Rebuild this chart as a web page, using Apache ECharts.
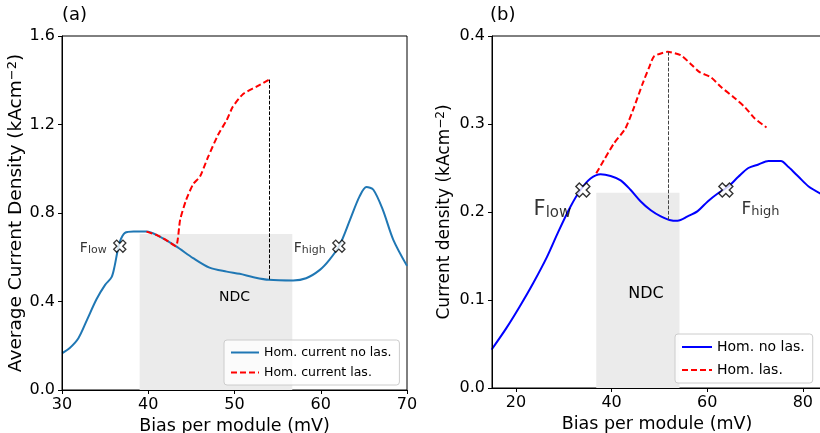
<!DOCTYPE html>
<html>
<head>
<meta charset="utf-8">
<script src="https://cdn.jsdelivr.net/npm/echarts@6/dist/echarts.min.js"></script>
<style>
  html, body { margin: 0; padding: 0; background: #fff; }
  #chart { width: 820px; height: 433px; }
</style>
</head>
<body>
<div id="chart"></div>
<script>
// panel (a)
const aNoLasX = [30, 30.9, 31.9, 32.9, 34.0, 35.0, 35.75, 36.1, 36.4, 36.7, 37.3, 38.3, 39.8, 41, 43.2, 45.2, 47.1, 49.1, 50.6, 52.2, 54, 56.8, 58.3, 59.9, 61, 62.2, 63.4, 64.5, 65.3, 66.1, 67.2, 68.4, 70]
const aNoLasY = [0.166, 0.19, 0.234, 0.317, 0.41, 0.475, 0.51, 0.56, 0.62, 0.67, 0.71, 0.716, 0.716, 0.70, 0.65, 0.596, 0.553, 0.535, 0.525, 0.51, 0.498, 0.495, 0.505, 0.543, 0.588, 0.656, 0.77, 0.875, 0.917, 0.905, 0.814, 0.68, 0.561]
const aLasX = [39.8, 41, 42, 43.2, 43.7, 44.4, 45.2, 46.0, 46.9, 48.1, 49.1, 49.8, 51.0, 52.5, 54]
const aLasY = [0.716, 0.70, 0.68, 0.65, 0.77, 0.86, 0.93, 0.965, 1.05, 1.154, 1.22, 1.28, 1.338, 1.37, 1.403]
const aPeak = [54, 1.403, 0.498]        // x, top, bottom of dashed drop line
const aNdc = [39.0, 56.7, 0.705]         // x from, x to, height
const aMarkX = [36.7, 62.1]
const aMarkY = [0.65, 0.65]

// panel (b)
const bNoLasX = [14.9, 18.0, 20.8, 23.6, 26.5, 28.9, 31.4, 33.5, 35.6, 37.7, 39.8, 41.9, 44.0, 46.1, 48.2, 50.3, 52.1, 53.8, 55.9, 58.0, 60.1, 62.2, 64.4, 66.5, 68.6, 70.7, 72.8, 75.4, 77.0, 79.1, 81.2, 84.0]
const bNoLasY = [0.0435, 0.068, 0.0926, 0.119, 0.149, 0.178, 0.206, 0.225, 0.238, 0.243, 0.241, 0.236, 0.225, 0.212, 0.202, 0.195, 0.191, 0.19, 0.195, 0.201, 0.212, 0.221, 0.229, 0.24, 0.25, 0.254, 0.258, 0.258, 0.251, 0.24, 0.229, 0.22]
const bLasX = [36.8, 38.4, 40.5, 42.9, 44.7, 46.5, 47.9, 48.9, 51.7, 54.5, 56.6, 58.4, 60.8, 62.9, 65.4, 67.9, 70.0, 72.4]
const bLasY = [0.244, 0.259, 0.278, 0.295, 0.319, 0.346, 0.365, 0.377, 0.382, 0.378, 0.368, 0.359, 0.353, 0.342, 0.331, 0.319, 0.306, 0.296]
const bPeak = [51.9, 0.382, 0.19]
const bNdc = [36.8, 54.2, 0.222]
const bMarkX = [34.0, 63.9]
const bMarkY = [0.225, 0.225]

const subs = ['low', 'high']
const xTicksB = [20, 40, 60, 80]

const zip = (xs, ys) => xs.map((x, i) => [x, ys[i]])

const FONT = 'DejaVu Sans'
const crossPath = 'path://M3.4,0 L6.6,0 L6.6,3.4 L10,3.4 L10,6.6 L6.6,6.6 L6.6,10 L3.4,10 L3.4,6.6 L0,6.6 L0,3.4 L3.4,3.4 Z'

const chart = echarts.init(document.getElementById('chart'), null, { renderer: 'canvas' })

const axisCommon = {
  z: 10,
  axisLine: { show: true, onZero: false, lineStyle: { color: '#000', width: 1 } },
  axisTick: { show: true, inside: false, length: 4, lineStyle: { color: '#000' } },
  splitLine: { show: false },
  axisLabel: { color: '#000', fontFamily: FONT, fontSize: 16, margin: 7 },
  nameTextStyle: { color: '#000', fontFamily: FONT }
}

// axis title with a real superscript for "−2"
const unitName = (fs) => ({
  color: '#000', fontFamily: FONT, fontSize: fs,
  rich: {
    sup: { fontSize: Math.round(fs * 0.7), fontFamily: FONT, color: '#000', verticalAlign: 'top', lineHeight: fs + 2 }
  }
})

const subLabel = (fs, ss) => ({
  show: true,
  color: '#000',
  fontFamily: FONT,
  formatter: (p) => '{f|F}{s|' + subs[p.dataIndex] + '}',
  rich: {
    f: { fontSize: fs, fontFamily: FONT, color: '#000', lineHeight: fs + 4, verticalAlign: 'bottom' },
    s: { fontSize: ss, fontFamily: FONT, color: '#000', lineHeight: ss, verticalAlign: 'bottom' }
  }
})

const legendCommon = {
  orient: 'vertical',
  padding: [6, 8, 6, 6],
  backgroundColor: 'rgba(255,255,255,0.8)', borderColor: '#ccc', borderWidth: 1, borderRadius: 3,
  itemStyle: { color: 'transparent', borderWidth: 0, opacity: 0 }
}

const option = {
  animation: false,
  backgroundColor: '#fff',
  textStyle: { fontFamily: FONT },
  title: [
    { text: '(a)', left: 57, top: 1, textStyle: { fontFamily: FONT, fontSize: 18, fontWeight: 'normal', color: '#000' } },
    { text: '(b)', left: 485, top: 1, textStyle: { fontFamily: FONT, fontSize: 18, fontWeight: 'normal', color: '#000' } }
  ],
  grid: [
    { left: 62, top: 36, width: 345, height: 354, outerBoundsMode: 'none', show: true, borderColor: '#000', borderWidth: 1, backgroundColor: 'transparent' },
    { left: 492, top: 36, right: -2, height: 352, outerBoundsMode: 'none', show: true, borderColor: '#000', borderWidth: 1, backgroundColor: 'transparent' }
  ],
  legend: [
    Object.assign({}, legendCommon, {
      data: ['Hom. current no las.', 'Hom. current las.'],
      left: 224, top: 340,
      itemWidth: 28, itemHeight: 10, itemGap: 7,
      textStyle: { fontFamily: FONT, fontSize: 12.5, color: '#000' }
    }),
    Object.assign({}, legendCommon, {
      data: ['Hom. no las.', 'Hom. las.'],
      left: 675, top: 334,
      itemWidth: 30, itemHeight: 10, itemGap: 9,
      textStyle: { fontFamily: FONT, fontSize: 14, color: '#000' }
    })
  ],
  xAxis: [
    Object.assign({}, axisCommon, {
      gridIndex: 0, type: 'value', min: 30, max: 70, interval: 10,
      name: 'Bias per module (mV)', nameLocation: 'middle', nameGap: 21,
      nameTextStyle: { color: '#000', fontFamily: FONT, fontSize: 17.5 }
    }),
    Object.assign({}, axisCommon, {
      gridIndex: 1, type: 'value', min: 15, max: 84,
      axisTick: { show: true, length: 4, lineStyle: { color: '#000' }, customValues: xTicksB },
      axisLabel: { color: '#000', fontFamily: FONT, fontSize: 16, margin: 7, customValues: xTicksB },
      name: 'Bias per module (mV)', nameLocation: 'middle', nameGap: 23,
      nameTextStyle: { color: '#000', fontFamily: FONT, fontSize: 17.5 }
    })
  ],
  yAxis: [
    Object.assign({}, axisCommon, {
      gridIndex: 0, type: 'value', min: 0, max: 1.6, interval: 0.4,
      axisLabel: { color: '#000', fontFamily: FONT, fontSize: 16, margin: 7, formatter: (v) => v.toFixed(1) },
      name: 'Average Current Density (kAcm{sup|−2})', nameLocation: 'middle', nameGap: 34,
      nameTextStyle: unitName(18.5)
    }),
    Object.assign({}, axisCommon, {
      gridIndex: 1, type: 'value', min: 0, max: 0.4, interval: 0.1,
      axisLabel: { color: '#000', fontFamily: FONT, fontSize: 16, margin: 7, formatter: (v) => v.toFixed(1) },
      name: 'Current density (kAcm{sup|−2})', nameLocation: 'middle', nameGap: 38,
      nameTextStyle: unitName(17)
    })
  ],
  series: [
    {
      name: 'Hom. current no las.', type: 'line', xAxisIndex: 0, yAxisIndex: 0,
      data: zip(aNoLasX, aNoLasY), smooth: 0.3, showSymbol: false, symbol: 'none',
      lineStyle: { color: '#1f77b4', width: 2 }, itemStyle: { color: '#1f77b4' }, z: 3,
      markArea: {
        silent: true,
        itemStyle: { color: '#ebebeb' },
        data: [[{ coord: [aNdc[0], 0] }, { coord: [aNdc[1], aNdc[2]] }]]
      },
      markPoint: {
        silent: true, symbol: 'circle', symbolSize: 0,
        label: { show: true, position: 'inside', formatter: 'NDC', color: '#000', fontFamily: FONT, fontSize: 14 },
        data: [{ coord: [50, 0.42] }]
      }
    },
    {
      name: 'Hom. current las.', type: 'line', xAxisIndex: 0, yAxisIndex: 0,
      data: zip(aLasX, aLasY), smooth: 0.2, showSymbol: false, symbol: 'none',
      lineStyle: { color: '#ff0000', width: 2, type: [6, 3] }, itemStyle: { color: '#ff0000' }, z: 4,
      markLine: {
        silent: true, symbol: 'none', label: { show: false },
        lineStyle: { color: '#000', width: 1, type: [3.7, 1.6] },
        data: [[{ coord: [aPeak[0], aPeak[1]] }, { coord: [aPeak[0], aPeak[2]] }]]
      }
    },
    {
      name: 'F points a', type: 'scatter', xAxisIndex: 0, yAxisIndex: 0,
      data: zip(aMarkX, aMarkY), symbol: crossPath, symbolSize: 13, symbolRotate: 45,
      itemStyle: { color: '#fff', borderColor: '#000', borderWidth: 1.3 }, z: 6,
      label: Object.assign(subLabel(14, 11), { position: 'left', distance: 3 })
    },
    {
      name: 'Hom. no las.', type: 'line', xAxisIndex: 1, yAxisIndex: 1,
      data: zip(bNoLasX, bNoLasY), smooth: 0.3, showSymbol: false, symbol: 'none',
      lineStyle: { color: '#0000ff', width: 2 }, itemStyle: { color: '#0000ff' }, z: 3,
      markArea: {
        silent: true,
        itemStyle: { color: '#ebebeb' },
        data: [[{ coord: [bNdc[0], 0] }, { coord: [bNdc[1], bNdc[2]] }]]
      },
      markPoint: {
        silent: true, symbol: 'circle', symbolSize: 0,
        label: { show: true, position: 'inside', formatter: 'NDC', color: '#000', fontFamily: FONT, fontSize: 16 },
        data: [{ coord: [47.2, 0.107] }]
      }
    },
    {
      name: 'Hom. las.', type: 'line', xAxisIndex: 1, yAxisIndex: 1,
      data: zip(bLasX, bLasY), smooth: 0.2, showSymbol: false, symbol: 'none',
      lineStyle: { color: '#ff0000', width: 2, type: [6, 3] }, itemStyle: { color: '#ff0000' }, z: 4,
      markLine: {
        silent: true, symbol: 'none', label: { show: false },
        lineStyle: { color: '#444', width: 1, type: [3.7, 1.6] },
        data: [[{ coord: [bPeak[0], bPeak[1]] }, { coord: [bPeak[0], bPeak[2]] }]]
      }
    },
    {
      name: 'F points b', type: 'scatter', xAxisIndex: 1, yAxisIndex: 1,
      data: [
        { value: [bMarkX[0], bMarkY[0]], label: Object.assign(subLabel(21, 15), { position: 'left', distance: 0, offset: [0, 18] }) },
        { value: [bMarkX[1], bMarkY[1]], label: Object.assign(subLabel(17, 13), { position: 'right', distance: 4, offset: [0, 18] }) }
      ],
      symbol: crossPath, symbolSize: 15, symbolRotate: 45,
      itemStyle: { color: '#fff', borderColor: '#000', borderWidth: 1.4 }, z: 6
    }
  ]
}

chart.setOption(option)
window.addEventListener('resize', () => chart.resize())
</script>
</body>
</html>
